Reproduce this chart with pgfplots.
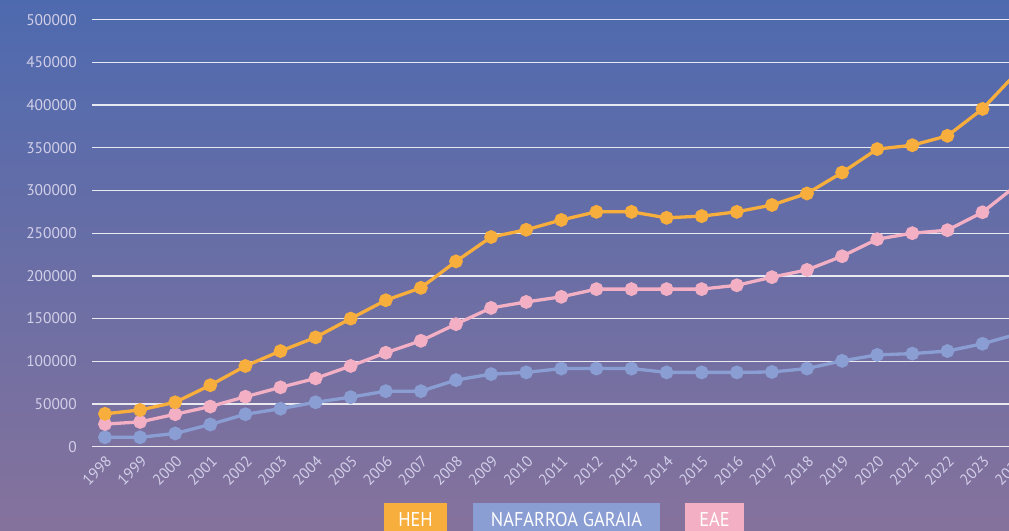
\documentclass[border=0pt]{standalone}
\usepackage{fontspec}
\setmainfont{PT Sans}
\newfontfamily\legfont[FakeStretch=0.92]{PT Sans}
\usepackage{pgfplots}
\pgfplotsset{compat=1.18}
\definecolor{bgtop}{HTML}{4E6AAF}
\definecolor{bgbot}{HTML}{85729C}
\definecolor{heh}{HTML}{F8AE3C}
\definecolor{nafarroa}{HTML}{8A9ED3}
\definecolor{eae}{HTML}{F3AFC3}
\definecolor{ticklab}{HTML}{D2CFE8}
\begin{document}
\begin{tikzpicture}[x=1bp,y=1bp]
\shade[top color=bgtop, bottom color=bgbot] (0,0) rectangle (1009,531);
\useasboundingbox (0,0) rectangle (1009,531);
\begin{axis}[
  at={(92bp,84.3bp)}, anchor=south west,
  scale only axis, width=917bp, height=427bp,
  xmin=1997.63, xmax=2023.755, ymin=0, ymax=500000,
  axis line style={draw=none},
  major tick length=0pt,
  ymajorgrids, grid style={color=white, opacity=0.85, line width=1.3bp},
  scaled y ticks=false,
  ytick={0,50000,100000,150000,200000,250000,300000,350000,400000,450000,500000},
  yticklabels={0,50000,100000,150000,200000,250000,300000,350000,400000,450000,500000},
  yticklabel style={font=\fontsize{15.5}{18}\selectfont, color=ticklab, anchor=east, inner sep=0pt, xshift=-15bp},
  xtick={1998,1999,...,2023},
  xticklabels={1998,1999,2000,2001,2002,2003,2004,2005,2006,2007,2008,2009,2010,2011,2012,2013,2014,2015,2016,2017,2018,2019,2020,2021,2022,2023},
  xticklabel style={font=\fontsize{15.5}{18}\selectfont, color=ticklab, inner sep=0pt, xshift=4bp, yshift=-12bp, rotate=45, anchor=east},
  clip=true,
]
\addplot[color=nafarroa, line width=3.3bp, mark=*, mark size=5.2bp] coordinates {
(1998,11000) (1999,11000) (2000,15500) (2001,26000) (2002,38000) (2003,44500)
(2004,52000) (2005,58000) (2006,65000) (2007,65000) (2008,78000) (2009,85000)
(2010,87000) (2011,91500) (2012,91500) (2013,91500) (2014,87000) (2015,87000)
(2016,87000) (2017,87500) (2018,91500) (2019,100500) (2020,107500) (2021,109000)
(2022,112000) (2023,120500) (2024,132000)};
\addplot[color=eae, line width=3.3bp, mark=*, mark size=5.2bp] coordinates {
(1998,26500) (1999,29000) (2000,38000) (2001,47000) (2002,58500) (2003,69500)
(2004,80000) (2005,94500) (2006,110000) (2007,124000) (2008,143500) (2009,162500)
(2010,169500) (2011,175500) (2012,184500) (2013,184500) (2014,184500) (2015,184500)
(2016,189000) (2017,198500) (2018,207000) (2019,223000) (2020,243000) (2021,250000)
(2022,253500) (2023,274500) (2024,307000)};
\addplot[color=heh, line width=3.3bp, mark=*, mark size=5.2bp] coordinates {
(1998,38500) (1999,43000) (2000,52000) (2001,72000) (2002,94500) (2003,112000)
(2004,128000) (2005,150000) (2006,171500) (2007,186000) (2008,217000) (2009,245500)
(2010,254000) (2011,265500) (2012,275000) (2013,275000) (2014,268000) (2015,270000)
(2016,275000) (2017,283000) (2018,296500) (2019,321000) (2020,348500) (2021,353000)
(2022,364000) (2023,395500) (2024,439000)};
\end{axis}
% 2024 label (tick lies just beyond the visible right edge)
\node[font=\fontsize{15.5}{18}\selectfont, text=ticklab, inner sep=0pt, rotate=45, anchor=east] at (1021.6,72.3) {2024};
% legend
\fill[heh] (384,-5) rectangle (447,28.3);
\node[anchor=base, text=white, inner sep=0pt, font=\legfont\fontsize{20}{22}\selectfont] at (415.5,4.3) {HEH};
\fill[nafarroa] (473,-5) rectangle (660,28.3);
\node[anchor=base, text=white, inner sep=0pt, font=\legfont\fontsize{20}{22}\selectfont] at (566.5,4.3) {NAFARROA GARAIA};
\fill[eae] (685,-5) rectangle (744,28.3);
\node[anchor=base, text=white, inner sep=0pt, font=\legfont\fontsize{20}{22}\selectfont] at (714.5,4.3) {EAE};
\end{tikzpicture}
\end{document}
